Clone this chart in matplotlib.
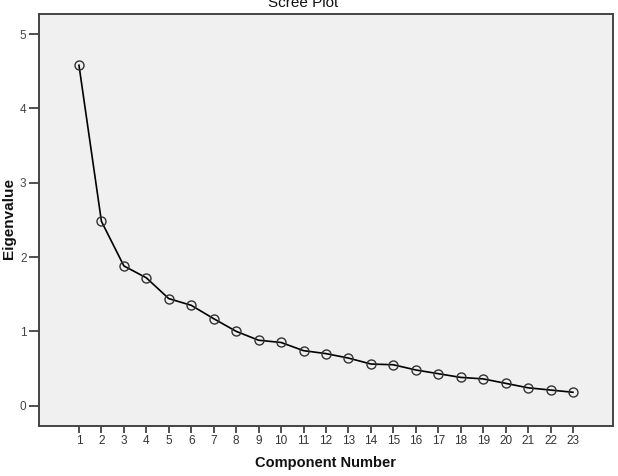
import matplotlib
matplotlib.use("Agg")
import matplotlib.pyplot as plt

components = list(range(1, 24))
eigenvalues = [4.58, 2.48, 1.88, 1.72, 1.44, 1.35, 1.17, 1.00, 0.88, 0.85,
               0.74, 0.70, 0.64, 0.56, 0.55, 0.48, 0.43, 0.38, 0.36, 0.30,
               0.24, 0.21, 0.18]
y_ticks = [0, 1, 2, 3, 4, 5]

plt.rcParams['font.family'] = ['Liberation Sans', 'DejaVu Sans']

fig = plt.figure(figsize=(6.18, 4.76), dpi=100)
ax = fig.add_axes([39/618, 1-425.7/476, (612.7-39)/618, (425.7-14)/476])
ax.set_facecolor('#f0f0f0')

ax.plot(components, eigenvalues, color='black', linewidth=1.2,
        marker='o', markersize=6.5, markerfacecolor='none',
        markeredgecolor='#333333', markeredgewidth=1.0)

ax.set_xlim(-0.78, 24.77)
ax.set_ylim(-0.27, 5.27)
ax.set_xticks(components)
ax.set_yticks(y_ticks)

for s in ax.spines.values():
    s.set_color('#444444')
    s.set_linewidth(1.4)

ax.tick_params(axis='x', direction='out', length=5, width=1.2, color='#333333',
               labelsize=8.5, labelcolor='#333333', pad=2)
ax.tick_params(axis='y', direction='out', length=7, width=1.2, color='#333333',
               labelsize=8.5, labelcolor='#444444', pad=2)

fig.text(303/618, 1-7/476, 'Scree Plot', ha='center', va='baseline',
         fontsize=11, color='#111111')
fig.text(326/618, 1-467/476, 'Component Number', ha='center', va='baseline',
         fontsize=10.5, fontweight='bold', color='#111111')
fig.text(9/618, 1-219/476, 'Eigenvalue', ha='center', va='center',
         rotation=90, fontsize=11, fontweight='bold', color='#111111')

fig.savefig('out.png', dpi=100)
